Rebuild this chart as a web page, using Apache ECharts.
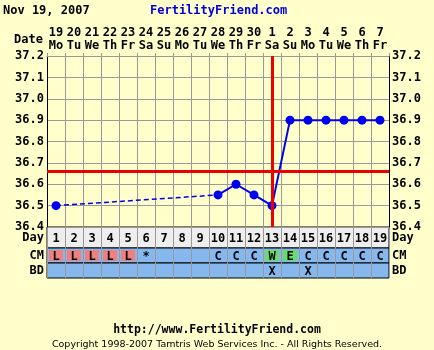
<!DOCTYPE html>
<html><head><meta charset="utf-8">
<script src="https://cdn.jsdelivr.net/npm/echarts@6/dist/echarts.min.js"></script>
<style>html,body{margin:0;padding:0;background:#ffffcc;}#c{width:434px;height:350px;}</style>
</head><body><div id="c"></div>
<script>
const dayNums = ['1','2','3','4','5','6','7','8','9','10','11','12','13','14','15','16','17','18','19'];
const dates = ['19','20','21','22','23','24','25','26','27','28','29','30','1','2','3','4','5','6','7'];
const weekdays = ['Mo','Tu','We','Th','Fr','Sa','Su','Mo','Tu','We','Th','Fr','Sa','Su','Mo','Tu','We','Th','Fr'];
const temps = [36.5, null, null, null, null, null, null, null, null, 36.55, 36.6, 36.55, 36.5, 36.9, 36.9, 36.9, 36.9, 36.9, 36.9];
const cmCodes = ['L','L','L','L','L','*','','','','C','C','C','W','E','C','C','C','C','C'];
const bdCodes = ['','','','','','','','','','','','','X','','X','','','',''];
const coverline = 36.66;
const ovulationDay = '13';
const tempMin = 36.4, tempMax = 37.2, tempStep = 0.1;

const MONO = '"DejaVu Sans Mono", monospace';
const BOLD12 = 'bold 12px ' + MONO;
const cmColors = { L: '#f08080', W: '#66dd66', E: '#66dd66' };

// dashed segments bridging missing days
const dashed = temps.map((v, i) => {
  if (v == null) return null;
  const prevGap = i > 0 && temps[i - 1] == null;
  const nextGap = i < temps.length - 1 && temps[i + 1] == null;
  return (prevGap || nextGap) ? v : null;
});

const chart = echarts.init(document.getElementById('c'), null, { renderer: 'canvas' });

const L = 47, W = 342;
function rowGrid(top, height, bg) {
  return { left: L, top: top, width: W, height: height, show: true, backgroundColor: bg, borderColor: '#000', borderWidth: 1 };
}
function rowX(gi) {
  return { type: 'category', gridIndex: gi, data: dayNums, boundaryGap: true,
    axisLine: { show: false }, axisTick: { show: false }, axisLabel: { show: false },
    splitLine: { show: true, interval: 0, lineStyle: { color: '#999', width: 1 } } };
}
function rowY(gi, name, pos) {
  return { type: 'category', gridIndex: gi, data: [name], position: pos,
    axisLine: { show: false }, axisTick: { show: false },
    axisLabel: { show: true, margin: 3, color: '#000', fontFamily: MONO, fontWeight: 'bold', fontSize: 12 },
    splitLine: { show: false } };
}
function textSeries(xi, yi, codes, withColors) {
  return {
    type: 'custom', xAxisIndex: xi, yAxisIndex: yi, silent: true,
    data: codes.map((c, i) => [i, 0, c]),
    encode: { x: 0, y: 1 },
    renderItem: function (params, api) {
      const i = api.value(0);
      const code = codes[i];
      const p = api.coord([i, 0]);
      const bw = api.size([1, 0])[0];
      const cs = params.coordSys;
      const children = [];
      if (withColors && cmColors[code]) {
        children.push({ type: 'rect', shape: { x: p[0] - bw / 2 + 2, y: cs.y + 2, width: bw - 4, height: cs.height - 4 }, style: { fill: cmColors[code] } });
      }
      if (code) {
        children.push({ type: 'text', style: { text: code, x: p[0], y: cs.y + cs.height / 2 + 1, align: 'center', verticalAlign: 'middle', font: BOLD12, fill: '#000' } });
      }
      return { type: 'group', children: children };
    }
  };
}

const option = {
  backgroundColor: '#ffffcc',
  animation: false,
  grid: [
    { left: L, top: 56, width: W, height: 171, show: true, backgroundColor: '#ffffcc', borderWidth: 0 },
    rowGrid(227, 21, '#eeeeee'),
    rowGrid(248, 15, '#86b8ee'),
    rowGrid(263, 15, '#86b8ee')
  ],
  xAxis: [
    { type: 'category', gridIndex: 0, data: dayNums, position: 'top', boundaryGap: true,
      axisLine: { show: true, lineStyle: { color: '#999', width: 1 } },
      axisTick: { show: true, length: 3, interval: 0, lineStyle: { color: '#999' } },
      axisLabel: { show: true, interval: 0, margin: 4, lineHeight: 13, fontFamily: MONO, fontWeight: 'bold', fontSize: 12, color: '#000',
        formatter: (v, i) => dates[i] + '\n' + weekdays[i] },
      splitLine: { show: true, interval: 0, lineStyle: { color: '#999', width: 1 } } },
    rowX(1), rowX(2), rowX(3)
  ],
  yAxis: [
    { type: 'value', gridIndex: 0, min: tempMin, max: tempMax, interval: tempStep, position: 'left',
      axisLine: { show: true, lineStyle: { color: '#000', width: 1 } }, axisTick: { show: false },
      axisLabel: { margin: 3, fontFamily: MONO, fontWeight: 'bold', fontSize: 12, color: '#000', formatter: v => v.toFixed(1) },
      splitLine: { show: true, lineStyle: { color: '#999', width: 1 } } },
    { type: 'value', gridIndex: 0, min: tempMin, max: tempMax, interval: tempStep, position: 'right',
      axisLine: { show: true, lineStyle: { color: '#000', width: 1 } }, axisTick: { show: false },
      axisLabel: { margin: 3, fontFamily: MONO, fontWeight: 'bold', fontSize: 12, color: '#000', formatter: v => v.toFixed(1) },
      splitLine: { show: false } },
    rowY(1, 'Day', 'left'), rowY(1, 'Day', 'right'),
    rowY(2, 'CM', 'left'), rowY(2, 'CM', 'right'),
    rowY(3, 'BD', 'left'), rowY(3, 'BD', 'right')
  ],
  series: [
    { type: 'line', xAxisIndex: 0, yAxisIndex: 0, data: dashed, connectNulls: true, showSymbol: false, silent: true,
      lineStyle: { color: '#0000ee', width: 1.5, type: [5, 3] }, z: 3 },
    { type: 'line', xAxisIndex: 0, yAxisIndex: 0, data: temps, connectNulls: false, symbol: 'circle', symbolSize: 9, silent: true,
      itemStyle: { color: '#0000ee' }, lineStyle: { color: '#0000ee', width: 2 }, z: 4,
      markLine: { silent: true, symbol: 'none', label: { show: false }, animation: false,
        lineStyle: { color: '#ee0000', width: 3, type: 'solid' },
        data: [{ yAxis: coverline }, { xAxis: ovulationDay }] } },
    textSeries(1, 2, dayNums, false),
    textSeries(2, 4, cmCodes, true),
    textSeries(3, 6, bdCodes, false)
  ],
  graphic: [
    { type: 'text', left: 3, top: 5, style: { text: 'Nov 19, 2007', font: BOLD12, fill: '#000' } },
    { type: 'text', left: 150, top: 5, style: { text: 'FertilityFriend.com', font: BOLD12, fill: '#0000dd' } },
    { type: 'text', right: 391, top: 34, style: { text: 'Date', font: BOLD12, fill: '#000' } },
    { type: 'text', left: 'center', top: 324, style: { text: 'http://www.FertilityFriend.com', font: 'bold 11.5px ' + MONO, fill: '#000' } },
    { type: 'text', left: 'center', top: 340, style: { text: 'Copyright 1998-2007 Tamtris Web Services Inc. - All Rights Reserved.', font: '9.5px "DejaVu Sans", sans-serif', fill: '#000' } }
  ]
};
chart.setOption(option);
</script>
</body></html>
